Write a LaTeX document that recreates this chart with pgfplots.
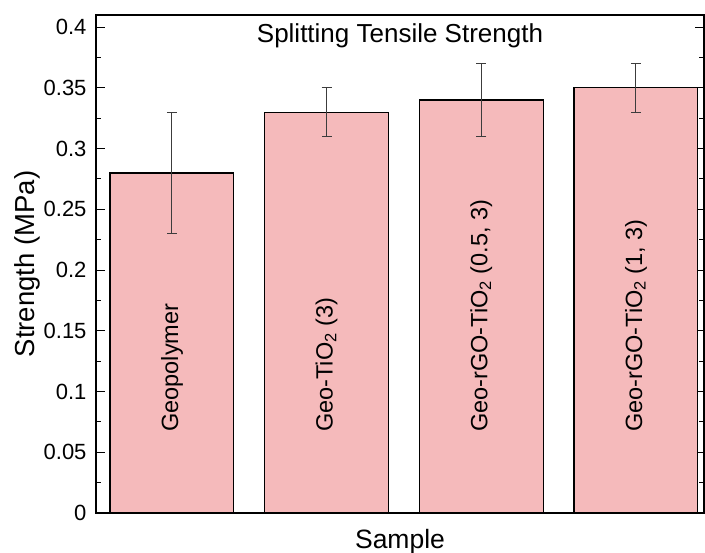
\documentclass[border=0pt]{standalone}
\usepackage{pgfplots}
\pgfplotsset{compat=1.18}
\usepackage{fontspec}
\setmainfont{Liberation Sans}
\definecolor{barpink}{RGB}{245,186,187}
\definecolor{errgray}{RGB}{60,60,60}
\begin{document}
\begin{tikzpicture}
\begin{axis}[
  scale only axis, width=608bp, height=498bp,
  xmin=-0.491, xmax=3.44, ymin=0, ymax=0.41,
  axis line style={line width=1.2bp, black},
  xtick={0,1,2,3}, xticklabels={}, xtick pos=bottom,
  ytick={0,0.05,0.1,0.15,0.2,0.25,0.3,0.35,0.4},
  ytick pos=both,
  minor y tick num=1,
  tick align=inside,
  major tick length=9bp, minor tick length=5bp,
  every tick/.style={line width=1bp, black},
  yticklabel style={font=\fontsize{22bp}{26bp}\selectfont, xshift=-6bp},
  scaled y ticks=false,
  /pgf/number format/fixed, /pgf/number format/precision=2,
  /pgf/number format/assume math mode=true,
  ylabel={Strength (MPa)}, xlabel={Sample},
  every axis y label/.style={at={(axis description cs:-0.1135,0.5)}, rotate=90, anchor=center, font=\fontsize{27.5bp}{32bp}\selectfont},
  every axis x label/.style={at={(axis description cs:0.5,0)}, anchor=base, yshift=-35bp, font=\fontsize{26.5bp}{31bp}\selectfont},
  clip=false,
]
\addplot[ybar, bar width=0.8, fill=barpink, draw=black, line width=1.2bp,
  error bars/.cd, y dir=both, y explicit,
  error bar style={line width=1bp, errgray},
  error mark options={rotate=90, mark size=5bp, line width=1bp, errgray}]
  coordinates {
  (0,0.28) +- (0,0.05)
  (1,0.33) +- (0,0.02)
  (2,0.34) +- (0,0.03)
  (3,0.35) +- (0,0.02)
  };
\node[anchor=base, font=\fontsize{26bp}{30bp}\selectfont] at ([yshift=-28bp]axis description cs:0.5,1) {Splitting Tensile Strength};
\node[rotate=90, anchor=west, font=\fontsize{23.5bp}{27bp}\selectfont] at (axis cs:0,0.064) {Geopolymer};
\node[rotate=90, anchor=west, font=\fontsize{23.5bp}{27bp}\selectfont] at (axis cs:1,0.064) {Geo-TiO\textsubscript{2} (3)};
\node[rotate=90, anchor=west, font=\fontsize{23.5bp}{27bp}\selectfont] at (axis cs:2,0.064) {Geo-rGO-TiO\textsubscript{2} (0.5, 3)};
\node[rotate=90, anchor=west, font=\fontsize{23.5bp}{27bp}\selectfont] at (axis cs:3,0.064) {Geo-rGO-TiO\textsubscript{2} (1, 3)};
\coordinate (sw) at (rel axis cs:0,0);
\coordinate (ne) at (rel axis cs:1,1);
\end{axis}
\pgfresetboundingbox
\useasboundingbox ([xshift=-96bp,yshift=-40bp]sw) rectangle ([xshift=1bp,yshift=15bp]ne);
\end{tikzpicture}
\end{document}
